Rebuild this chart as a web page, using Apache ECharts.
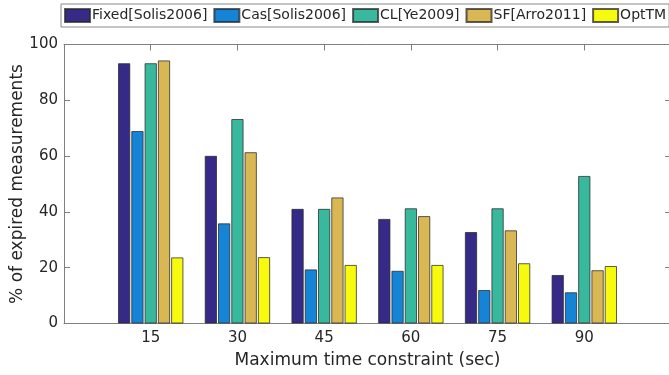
<!DOCTYPE html>
<html>
<head>
<meta charset="utf-8">
<script src="https://cdn.jsdelivr.net/npm/echarts@6/dist/echarts.min.js"></script>
<style>
  html, body { margin: 0; padding: 0; background: #fff; }
  #chart { width: 669px; height: 375px; }
</style>
</head>
<body>
<div id="chart"></div>
<script>
// Time constraints (sec) on the x axis
const constraints = [15, 30, 45, 60, 75, 90];
// Percentage of expired measurements per method
const fixedSolis = [93.3, 60.1, 41.1, 37.5, 32.8, 17.4];
const casSolis   = [69.0, 35.9, 19.4, 18.9, 12.0, 11.2];
const clYe       = [93.3, 73.3, 41.1, 41.3, 41.3, 52.9];
const sfArro     = [94.3, 61.4, 45.2, 38.5, 33.4, 19.1];
const optTM      = [23.7, 23.8, 21.0, 21.0, 21.6, 20.6];
const yTicks = [0, 20, 40, 60, 80, 100];

const seriesDefs = [
  { name: 'Fixed[Solis2006]', values: fixedSolis, color: '#352a87' },
  { name: 'Cas[Solis2006]',   values: casSolis,   color: '#1584d6' },
  { name: 'CL[Ye2009]',       values: clYe,       color: '#38b89c' },
  { name: 'SF[Arro2011]',     values: sfArro,     color: '#d9b853' },
  { name: 'OptTM',            values: optTM,      color: '#f8fa0d' }
];

const axisGray = '#7f7f7f';
const textColor = '#262626';
const font = 'DejaVu Sans';

const chart = echarts.init(document.getElementById('chart'), null, { renderer: 'canvas' });

const xCommon = {
  type: 'value',
  min: 0,
  max: 105,
  interval: 15,
  splitLine: { show: false },
  axisLine: { show: true, onZero: false, lineStyle: { color: axisGray, width: 1 } },
  axisTick: { show: true, inside: true, length: 6, lineStyle: { color: axisGray } }
};
const yCommon = {
  type: 'value',
  min: 0,
  max: 100,
  interval: 20,
  splitLine: { show: false },
  axisLine: { show: true, onZero: false, lineStyle: { color: axisGray, width: 1 } },
  axisTick: { show: true, inside: true, length: 6, lineStyle: { color: axisGray } }
};

chart.setOption({
  animation: false,
  textStyle: { fontFamily: font },
  grid: {
    left: 64, right: -2, top: 44.5, bottom: 51.5,
    containLabel: false,
    outerBoundsMode: 'none'
  },
  legend: {
    left: 61,
    top: 4,
    width: 900,
    orient: 'horizontal',
    icon: 'rect',
    itemWidth: 25,
    itemHeight: 13,
    itemGap: 6,
    padding: [4, 3, 4, 3],
    borderColor: '#8a8a8a',
    borderWidth: 1,
    backgroundColor: '#fff',
    textStyle: { fontFamily: font, fontSize: 14, color: textColor, padding: [0, 0, 0, -3] },
    data: seriesDefs.map(s => s.name)
  },
  xAxis: [
    Object.assign({}, xCommon, {
      position: 'bottom',
      name: 'Maximum time constraint (sec)',
      nameLocation: 'middle',
      nameGap: 29,
      nameMoveOverlap: false,
      nameTextStyle: { fontFamily: font, fontSize: 17, color: textColor },
      axisLabel: {
        show: true, margin: 7, fontFamily: font, fontSize: 15, color: textColor,
        showMinLabel: false, showMaxLabel: false,
        formatter: v => (constraints.indexOf(v) >= 0 ? String(v) : '')
      }
    }),
    Object.assign({}, xCommon, {
      position: 'top',
      axisLabel: { show: false }
    })
  ],
  yAxis: [
    Object.assign({}, yCommon, {
      position: 'left',
      name: '% of expired measurements',
      nameLocation: 'middle',
      nameGap: 38,
      nameMoveOverlap: false,
      nameTextStyle: { fontFamily: font, fontSize: 17, color: textColor },
      axisLabel: {
        show: true, margin: 6, fontFamily: font, fontSize: 15, color: textColor,
        formatter: v => (yTicks.indexOf(v) >= 0 ? String(v) : '')
      }
    }),
    Object.assign({}, yCommon, {
      position: 'right',
      axisLabel: { show: false }
    })
  ],
  series: seriesDefs.map(s => ({
    name: s.name,
    type: 'bar',
    xAxisIndex: 0,
    yAxisIndex: 0,
    barWidth: 12.3,
    barGap: '8%',
    itemStyle: { color: s.color, borderColor: 'rgba(40,40,40,0.75)', borderWidth: 1 },
    data: constraints.map((c, i) => [c, s.values[i]])
  }))
});
</script>
</body>
</html>
